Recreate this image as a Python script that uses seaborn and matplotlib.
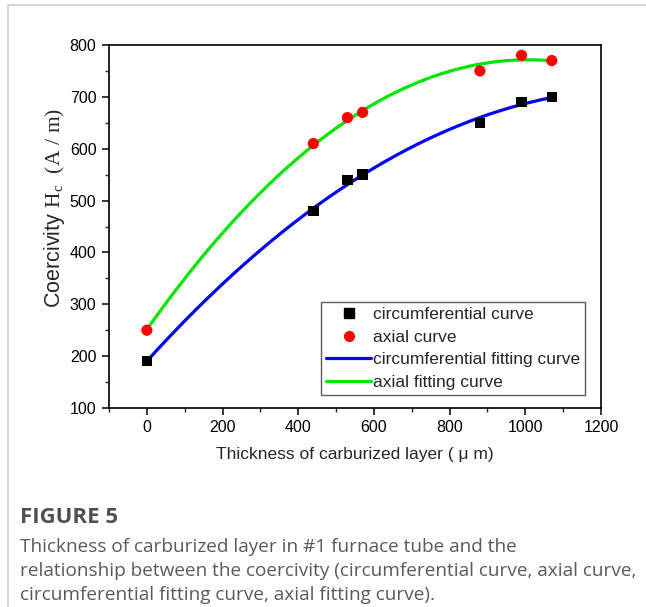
import numpy as np
import pandas as pd
import matplotlib
matplotlib.use("Agg")
import matplotlib.pyplot as plt
from matplotlib.lines import Line2D
import seaborn as sns

# Measured coercivity vs. carburized layer thickness
thickness = [0, 440, 530, 570, 880, 990, 1070]
circumferential = [190, 480, 540, 550, 650, 690, 700]
axial = [250, 610, 660, 670, 750, 780, 770]

x_ticks = [0, 200, 400, 600, 800, 1000, 1200]
y_ticks = [100, 200, 300, 400, 500, 600, 700, 800]

sns.set_style("ticks")
plt.rcParams["font.family"] = ["Liberation Sans", "DejaVu Sans"]
plt.rcParams["mathtext.fontset"] = "custom"
plt.rcParams["mathtext.rm"] = "Liberation Serif"

df = pd.DataFrame({"t": thickness, "circ": circumferential, "axial": axial})

# Second-order polynomial fits
xs = np.linspace(min(thickness), max(thickness), 200)
circ_fit = np.polyval(np.polyfit(thickness, circumferential, 2), xs)
axial_fit = np.polyval(np.polyfit(thickness, axial, 2), xs)
fit = pd.DataFrame({"t": xs, "circ": circ_fit, "axial": axial_fit})

fig = plt.figure(figsize=(6.46, 6.07), dpi=100)
ax = fig.add_axes([109 / 646, 1 - 408 / 607, 492 / 646, 363 / 607])

sns.lineplot(data=fit, x="t", y="circ", ax=ax, color="#0000ff", lw=2.3, zorder=2)
sns.lineplot(data=fit, x="t", y="axial", ax=ax, color="#00e600", lw=2.3, zorder=2)
sns.scatterplot(data=df, x="t", y="circ", ax=ax, marker="s", color="black",
                s=55, edgecolor="none", zorder=3)
sns.scatterplot(data=df, x="t", y="axial", ax=ax, marker="o", color="#ff0000",
                s=65, edgecolor="none", zorder=3)

ax.set_xlim(-100, 1200)
ax.set_ylim(100, 800)
ax.set_xticks(x_ticks)
ax.set_yticks(y_ticks)
ax.set_xticks(np.arange(-100, 1201, 100), minor=True)
ax.set_yticks(np.arange(100, 801, 50), minor=True)
ax.tick_params(axis="both", which="major", direction="out", length=5, width=1.1,
               labelsize=11.5, colors="black", pad=4)
ax.tick_params(axis="both", which="minor", direction="out", length=3, width=1.0)
for s in ax.spines.values():
    s.set_linewidth(1.2)
    s.set_color("black")

ax.set_xlabel("Thickness of carburized layer ( μ m)", fontsize=12.5, labelpad=8)
ax.set_ylabel(r"Coercivity $\mathrm{H_{c}\;\;(A\;/\;m)}$", fontsize=15.5)
ax.yaxis.set_label_coords(-0.086, 0.55)

handles = [
    Line2D([], [], ls="none", marker="s", color="black", markersize=6.5),
    Line2D([], [], ls="none", marker="o", color="#ff0000", markersize=7),
    Line2D([], [], color="#0000ff", lw=2.3),
    Line2D([], [], color="#00e600", lw=2.3),
]
labels = ["circumferential curve", "axial curve",
          "circumferential fitting curve", "axial fitting curve"]
leg = ax.legend(handles, labels, loc="lower right", bbox_to_anchor=(0.968, 0.036),
                fontsize=12.5, frameon=True, fancybox=False, edgecolor="#333333",
                handlelength=2.6, handletextpad=0.1, labelspacing=0.42,
                borderpad=0.3, borderaxespad=0.0)
leg.get_frame().set_linewidth(1.0)

# Caption
fig.text(20 / 646, 1 - 523 / 607, "FIGURE 5", fontsize=16, fontweight="bold",
         color="#505050", family=["Open Sans", "DejaVu Sans"], va="baseline")
caption = ["Thickness of carburized layer in #1 furnace tube and the",
           "relationship between the coercivity (circumferential curve, axial curve,",
           "circumferential fitting curve, axial fitting curve)."]
for i, line in enumerate(caption):
    fig.text(20 / 646, 1 - (552 + 24 * i) / 607, line, fontsize=13.7, color="#5a5a5a",
             family=["Open Sans", "DejaVu Sans"], va="baseline")

# Panel border
fig.add_artist(Line2D([8 / 646, 1], [1 - 5 / 607, 1 - 5 / 607],
                      transform=fig.transFigure, color="#d0d0d0", lw=1.2))
fig.add_artist(Line2D([8 / 646, 8 / 646], [0, 1 - 5 / 607],
                      transform=fig.transFigure, color="#d0d0d0", lw=1.2))

fig.savefig("out.png", dpi=100, facecolor="white")
